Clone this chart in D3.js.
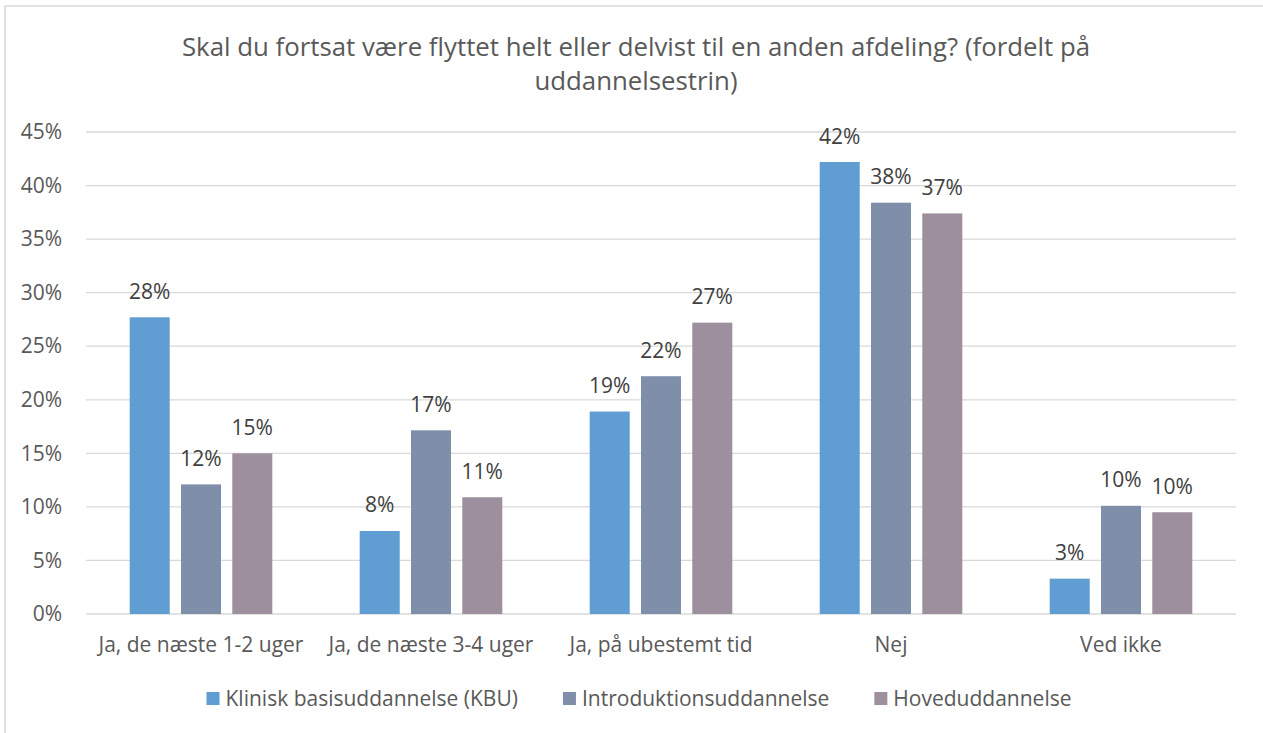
<!DOCTYPE html>
<html>
<head>
<meta charset="utf-8">
<script src="https://cdn.jsdelivr.net/npm/d3@7"></script>
<style>
  body { margin: 0; background: #fff; }
  text { font-family: "Open Sans", sans-serif; fill: #595959; }
</style>
</head>
<body>
<div id="chart"></div>
<script>
// data
var categories = ["Ja, de næste 1-2 uger", "Ja, de næste 3-4 uger", "Ja, på ubestemt tid", "Nej", "Ved ikke"];
var seriesNames = ["Klinisk basisuddannelse (KBU)", "Introduktionsuddannelse", "Hoveduddannelse"];
var kbu = [27.7, 7.75, 18.9, 42.2, 3.3];
var intro = [12.1, 17.15, 22.2, 38.4, 10.1];
var hoved = [15.0, 10.9, 27.2, 37.4, 9.5];
var colors = ["#5F9DD2", "#7F8EA9", "#9E8F9E"];
var yTicks = [0, 5, 10, 15, 20, 25, 30, 35, 40, 45];
var titleLines = ["Skal du fortsat være flyttet helt eller delvist til en anden afdeling? (fordelt på", "uddannelsestrin)"];

var W = 1263, H = 733;
var margin = {top: 132, right: 27, bottom: 119, left: 86};
var w = W - margin.left - margin.right,
    h = H - margin.top - margin.bottom;
var fs = "21px";

var svg = d3.select("#chart").append("svg")
    .attr("width", W)
    .attr("height", H);

// outer chart border
svg.append("rect")
  .attr("x", 5).attr("y", 6)
  .attr("width", W + 10).attr("height", H + 10)
  .attr("fill", "none")
  .attr("stroke", "#d9d9d9")
  .attr("stroke-width", 1.5);

var centerX = 636;

// title
svg.append("g").selectAll("text")
  .data(titleLines)
  .enter().append("text")
    .attr("x", centerX)
    .attr("y", function(d, i) { return 56 + i * 34; })
    .attr("text-anchor", "middle")
    .style("font-size", "25.8px")
    .text(function(d) { return d; });

var g = svg.append("g")
    .attr("transform", "translate(" + margin.left + "," + margin.top + ")");

var x0 = d3.scaleBand().domain(categories).range([0, w]);
var x1 = d3.scaleBand().domain([0, 1, 2]).range([-71.3, 71.3]).paddingInner(0.22);
var y = d3.scaleLinear().domain([0, 45]).range([h, 0]);

// gridlines
g.append("g").selectAll("line")
  .data(yTicks)
  .enter().append("line")
    .attr("x1", 0).attr("x2", w)
    .attr("y1", function(d) { return y(d); })
    .attr("y2", function(d) { return y(d); })
    .attr("stroke", "#d9d9d9")
    .attr("stroke-width", 1.3);

// y axis labels
var yAxis = g.append("g")
  .call(d3.axisLeft(y).tickValues(yTicks).tickSize(0).tickPadding(24).tickFormat(function(d) { return d + "%"; }));
yAxis.select(".domain").remove();
yAxis.selectAll("text").style("font-size", fs).attr("fill", "#595959");

// x axis labels
var xAxis = g.append("g")
  .attr("transform", "translate(0," + h + ")")
  .call(d3.axisBottom(x0).tickSize(0).tickPadding(23));
xAxis.select(".domain").remove();
xAxis.selectAll("text").style("font-size", fs).attr("fill", "#595959");

var rows = categories.map(function(c, i) {
  return {cat: c, vals: [kbu[i], intro[i], hoved[i]]};
});

var groups = g.selectAll(".grp")
  .data(rows)
  .enter().append("g")
    .attr("class", "grp")
    .attr("transform", function(d) { return "translate(" + (x0(d.cat) + x0.bandwidth() / 2) + ",0)"; });

groups.selectAll("rect")
  .data(function(d) { return d.vals; })
  .enter().append("rect")
    .attr("x", function(d, i) { return x1(i); })
    .attr("width", x1.bandwidth())
    .attr("y", function(d) { return y(d); })
    .attr("height", function(d) { return h - y(d); })
    .attr("fill", function(d, i) { return colors[i]; });

groups.selectAll(".lbl")
  .data(function(d) { return d.vals; })
  .enter().append("text")
    .attr("class", "lbl")
    .attr("x", function(d, i) { return x1(i) + x1.bandwidth() / 2; })
    .attr("y", function(d) { return y(d) - 18.5; })
    .attr("text-anchor", "middle")
    .style("font-size", fs)
    .style("fill", "#404040")
    .text(function(d) { return Math.round(d) + "%"; });

// legend
var legend = svg.append("g");
var items = legend.selectAll("g")
  .data(seriesNames)
  .enter().append("g");
items.append("rect")
  .attr("width", 13).attr("height", 13)
  .attr("y", 692)
  .attr("fill", function(d, i) { return colors[i]; });
items.append("text")
  .attr("x", 19)
  .attr("y", 706)
  .style("font-size", fs)
  .text(function(d) { return d; });

var pos = 0, offsets = [];
items.each(function(d, i) {
  var tw = d3.select(this).select("text").node().getComputedTextLength();
  offsets.push(pos);
  pos += 19 + tw + (i < seriesNames.length - 1 ? 45 : 0);
});
var start = centerX - pos / 2 + 3;
items.attr("transform", function(d, i) { return "translate(" + (start + offsets[i]) + ",0)"; });
</script>
</body>
</html>
